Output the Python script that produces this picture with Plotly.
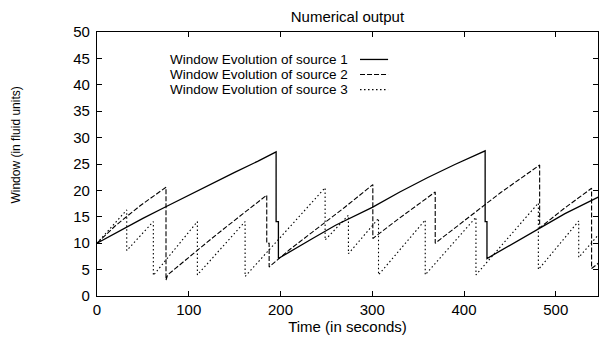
import plotly.graph_objects as go

# Source 1 (solid)
s1_t = [0, 25, 50, 75, 100, 125, 150, 175, 195.2, 195.2, 197.7, 197.7,
        210, 234, 260, 300, 330, 360, 390, 423, 423, 425, 425,
        450, 482, 510, 547]
s1_w = [10, 12.4, 14.7, 16.9, 19.1, 21.3, 23.4, 25.5, 27.3, 14.1, 14.1, 7.1,
        8.4, 10.8, 13.4, 16.8, 19.7, 22.4, 24.9, 27.5, 14.1, 14.1, 7.1,
        9.6, 12.9, 15.6, 18.8]

# Source 2 (dashed)
s2_t = [0, 20, 47, 75.2, 75.2, 77, 109, 130, 160, 185, 185, 187.6, 187.6,
        210, 234, 270, 300.6, 300.6, 330, 368.6, 368.6, 400, 440, 482.4, 482.4,
        510, 539, 539, 547]
s2_w = [10, 13.3, 17.1, 20.6, 3.0, 4.0, 8.6, 11.6, 15.7, 19.1, 10.0, 10.0, 5.5,
        8.8, 12.0, 16.8, 21.1, 10.9, 14.8, 19.7, 10.0, 14.2, 19.6, 24.8, 12.9,
        16.7, 20.4, 5.2, 6.3]

# Source 3 (dotted)
s3_t = [0, 32.4, 32.4, 61.4, 61.4, 109.4, 109.4, 161.4, 161.4, 200, 248.6, 248.6,
        274, 274, 306.8, 306.8, 357.7, 357.7, 413, 413, 481, 481, 525, 525, 547]
s3_w = [10, 16.3, 8.6, 14.1, 3.9, 14.1, 4.0, 14.1, 3.7, 11.2, 20.5, 10.6,
        15.3, 8.0, 14.7, 4.0, 14.4, 4.0, 14.9, 4.0, 17.6, 5.0, 14.2, 7.3, 11.7]

names = ["Window Evolution of source 1", "Window Evolution of source 2",
         "Window Evolution of source 3"]
dashes = ["solid", "5px,2px", "1.5px,2.5px"]
widths = [1.3, 1.1, 1.1]

x_ticks = [0, 100, 200, 300, 400, 500]
y_ticks = [0, 5, 10, 15, 20, 25, 30, 35, 40, 45, 50]

FONT = "Liberation Sans, Arial, Helvetica, sans-serif"

fig = go.Figure()
for t, w, nm, d, lw in zip([s1_t, s2_t, s3_t], [s1_w, s2_w, s3_w], names, dashes, widths):
    fig.add_trace(go.Scatter(x=t, y=w, mode="lines", name=nm,
                             line=dict(color="black", width=lw, dash=d),
                             showlegend=False))

# gnuplot-style key: right-aligned text with line sample on the right
key_y = [0.896, 0.8388, 0.7816]
for nm, d, lw, ky in zip(names, dashes, widths, key_y):
    fig.add_annotation(x=0.502, y=ky, xref="paper", yref="paper", text=nm,
                       showarrow=False, xanchor="right", yanchor="middle",
                       borderpad=0,
                       font=dict(family=FONT, size=13.5, color="black"))
    fig.add_shape(type="line", xref="paper", yref="paper", x0=0.525, x1=0.581,
                  y0=ky, y1=ky, line=dict(color="black", width=lw, dash=d))

# rotated y-axis title placed like the reference
fig.add_annotation(x=-0.1635, y=0.57, xref="paper", yref="paper",
                   text="Window (in fluid units)", textangle=-90, showarrow=False,
                   xanchor="center", yanchor="middle",
                   font=dict(family=FONT, size=12, color="black"))

axis_common = dict(showgrid=False, zeroline=False, showline=True, linecolor="black",
                   linewidth=1.3, mirror="ticks", ticks="inside", ticklen=5,
                   tickcolor="black", tickwidth=1)

fig.update_layout(
    width=599, height=338,
    margin=dict(l=97, r=1, t=32, b=42),
    paper_bgcolor="white", plot_bgcolor="white",
    title=dict(text="Numerical output", x=0.58, xanchor="center", y=0.95, yanchor="middle",
               font=dict(family=FONT, size=15, color="black")),
    xaxis=dict(range=[0, 546], tickvals=x_ticks, ticktext=[str(v) for v in x_ticks],
               tickfont=dict(family=FONT, size=15, color="black"),
               title=dict(text="Time (in seconds)", standoff=0,
                          font=dict(family=FONT, size=15, color="black")),
               **axis_common),
    yaxis=dict(range=[0, 50], tickvals=y_ticks, ticktext=[str(v) for v in y_ticks],
               tickfont=dict(family=FONT, size=15, color="black"),
               ticklabelstandoff=3,
               **axis_common),
)

fig.write_html("out.html")
